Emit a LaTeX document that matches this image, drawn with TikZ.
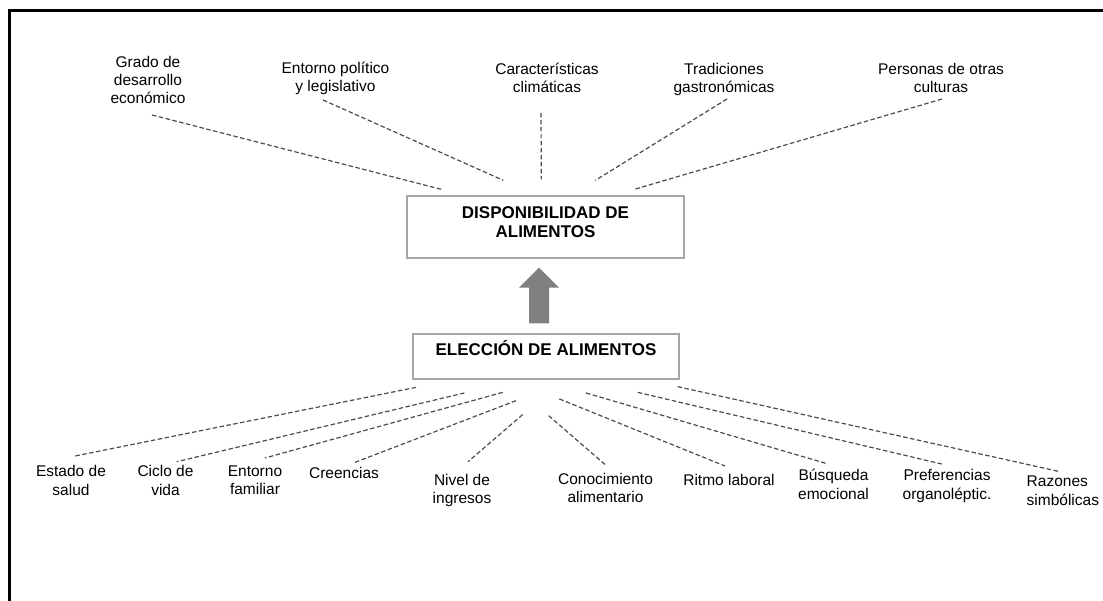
\documentclass[tikz,border=0pt]{standalone}
\usepackage{fontspec}
\setmainfont{Liberation Sans}
\usetikzlibrary{calc}
\newcommand\lblfont{\fontsize{15.5}{18.3}\selectfont}
\newcommand\boxfont{\fontsize{17}{19}\selectfont\bfseries}
\newcommand\mystrut{\rule{0pt}{13pt}}
\begin{document}
\begin{tikzpicture}[x=1pt,y=-1pt,
  lbl/.style={font=\lblfont, align=center, inner sep=0pt, anchor=north, text=black},
  dl/.style={draw=black!70, line width=1.2pt, dash pattern=on 4.5pt off 2.5pt},
  boxn/.style={draw=black!35, line width=1.3pt, font=\boxfont, inner sep=0pt, text=black},
  arrowfill/.style={fill=black!50}
]
\useasboundingbox (0,0) rectangle (1103,601);
\draw[line width=2.2pt] (9.5,601) -- (9.5,10.5) -- (1103,10.5);

% central boxes
\node[boxn, align=center, minimum width=277pt, minimum height=62pt] (disp) at (545.5,227)
  {DISPONIBILIDAD DE\\ALIMENTOS\rule[-10.6pt]{0pt}{10.6pt}};
\node[boxn, minimum width=266pt, text height=21.7pt, text depth=23.3pt] (elec) at (546,356.5)
  {ELECCIÓN DE ALIMENTOS};

% top labels
\node[lbl] (grado) at (148,54) {\mystrut Grado de\\desarrollo\\económico};
\node[lbl] (entpol) at (335.5,60) {\mystrut Entorno político\\y legislativo};
\node[lbl] (clim) at (547,61) {\mystrut Características\\climáticas};
\node[lbl] (trad) at (724,61) {\mystrut Tradiciones\\gastronómicas};
\node[lbl] (pers) at (941,61) {\mystrut Personas de otras\\culturas};

% bottom labels
\node[lbl] (salud) at (71,463.7) {\mystrut Estado de\\salud};
\node[lbl] (ciclo) at (165.5,463.7) {\mystrut Ciclo de\\vida};
\node[lbl] (fam) at (255,463) {\mystrut Entorno\\familiar};
\node[lbl] (cree) at (344,465) {\mystrut Creencias};
\node[lbl] (ingr) at (462,472) {\mystrut Nivel de\\ingresos};
\node[lbl] (conoc) at (605.5,471) {\mystrut Conocimiento\\alimentario};
\node[lbl] (ritmo) at (729,472) {\mystrut Ritmo laboral};
\node[lbl] (busq) at (833.5,467.7) {\mystrut Búsqueda\\emocional};
\node[lbl] (pref) at (947,467.7) {\mystrut Preferencias\\organoléptic.};
\node[lbl, anchor=north west, align=left] (raz) at (1026.5,473.7) {\mystrut Razones\\simbólicas};

% top connectors
\draw[dl] ([shift={(4,61)}]grado.north) -- ([shift={(35,-6)}]disp.north west);
\draw[dl] ([shift={(-12.5,40)}]entpol.north) -- ([shift={(97,-15)}]disp.north west);
\draw[dl] ([shift={(-6,52)}]clim.north) -- ([shift={(135,-16)}]disp.north west);
\draw[dl] ([shift={(3,38)}]trad.north) -- ([shift={(189,-15)}]disp.north west);
\draw[dl] ([shift={(1,38)}]pers.north) -- ([shift={(228,-6)}]disp.north west);

% bottom connectors
\draw[dl] ([shift={(3.7,7.7)}]elec.south west) -- ([shift={(4,-7.7)}]salud.north);
\draw[dl] ([shift={(52,13.3)}]elec.south west) -- ([shift={(11.2,-2)}]ciclo.north);
\draw[dl] ([shift={(90.3,12.7)}]elec.south west) -- ([shift={(10,-5)}]fam.north);
\draw[dl] ([shift={(103.7,21)}]elec.south west) -- ([shift={(9.3,-2)}]cree.north);
\draw[dl] ([shift={(110.3,35)}]elec.south west) -- ([shift={(6,-10.3)}]ingr.north);
\draw[dl] ([shift={(136.3,36)}]elec.south west) -- ([shift={(1.2,-5)}]conoc.north);
\draw[dl] ([shift={(147,19.3)}]elec.south west) -- ([shift={(-4,-6)}]ritmo.north);
\draw[dl] ([shift={(173.7,13.3)}]elec.south west) -- ([shift={(-5.5,-3.7)}]busq.north);
\draw[dl] ([shift={(225.3,12.7)}]elec.south west) -- ([shift={(-5.3,-3.7)}]pref.north);
\draw[dl] ([shift={(265.3,7)}]elec.south west) -- ([shift={(33.5,-2)}]raz.north west);

% big arrow from elec to disp
\coordinate (ab) at ([shift={(-7,-10)}]elec.north);
\coordinate (at) at ([shift={(-6.5,9)}]disp.south);
\fill[arrowfill] ($(ab)+(-10,0)$) -- ($(ab)+(10,0)$) -- ($(at)+(10,20)$) -- ($(at)+(20,20)$)
  -- (at) -- ($(at)+(-20,20)$) -- ($(at)+(-10,20)$) -- cycle;
\end{tikzpicture}
\end{document}
